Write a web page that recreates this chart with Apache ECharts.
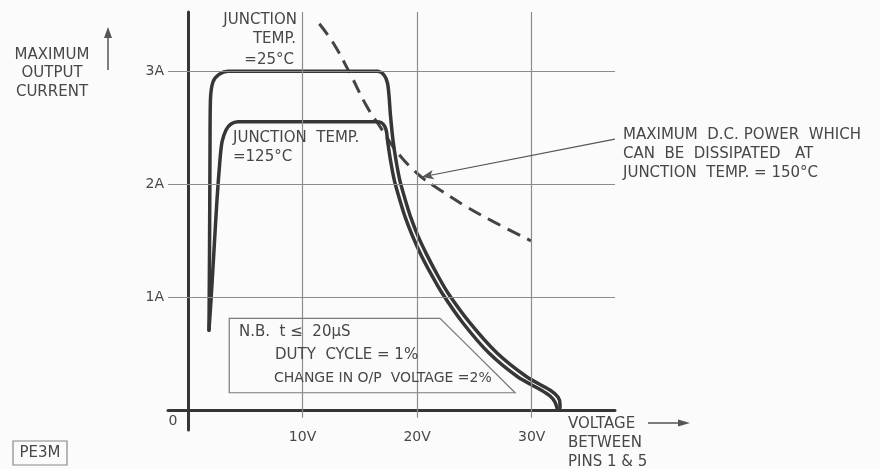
<!DOCTYPE html>
<html>
<head>
<meta charset="utf-8">
<script src="https://cdn.jsdelivr.net/npm/echarts@6/dist/echarts.min.js"></script>
<style>
  html, body { margin: 0; padding: 0; background: #fbfbfb; }
  #chart { width: 880px; height: 469px; }
</style>
</head>
<body>
<div id="chart"></div>
<script>
// Tick positions
const voltTicks = [10, 20, 30];
const ampTicks = [1, 2, 3];

// Safe operating curve, junction temperature 25 °C (volts, amps)
const tj25Volts = [1.83, 1.88, 1.92, 1.96, 2.18, 2.71, 3.49, 16.58, 17.11, 17.41, 17.54, 17.67, 17.89, 18.15, 18.50, 18.94, 19.46, 20.07, 20.85, 21.72, 22.69, 24.61, 26.97, 29.59, 31.59, 32.29, 32.47, 32.47];
const tj25Amps  = [0.71, 1.42, 2.30, 2.75, 2.905, 2.972, 3.0, 3.0, 2.967, 2.896, 2.79, 2.613, 2.392, 2.215, 2.03, 1.871, 1.703, 1.544, 1.376, 1.208, 1.039, 0.774, 0.508, 0.296, 0.181, 0.119, 0.057, 0.022];

// Safe operating curve, junction temperature 125 °C
const tj125Volts = [1.83, 2.01, 2.27, 2.53, 2.79, 2.97, 3.32, 3.75, 4.36, 16.41, 16.85, 17.15, 17.33, 17.41, 17.67, 18.02, 18.46, 18.98, 19.59, 20.34, 21.21, 22.17, 24.0, 26.27, 28.8, 30.81, 31.6, 32.03, 32.21];
const tj125Amps  = [0.71, 0.977, 1.419, 1.862, 2.215, 2.375, 2.481, 2.534, 2.554, 2.554, 2.547, 2.516, 2.463, 2.392, 2.215, 2.03, 1.871, 1.703, 1.544, 1.376, 1.208, 1.039, 0.774, 0.508, 0.296, 0.181, 0.128, 0.075, 0.022];

// Maximum d.c. power dissipation limit at Tj = 150 °C
const powerVolts = [11.46, 12.68, 14.14, 15.6, 16.76, 17.92, 18.79, 19.66, 20.54, 22.0, 24.33, 26.65, 29.94];
const powerAmps  = [3.42, 3.25, 2.98, 2.69, 2.51, 2.33, 2.22, 2.13, 2.05, 1.95, 1.80, 1.67, 1.50];

// Note panel outline (volts, amps)
const noteVolts = [3.6, 22.0, 28.55, 3.6, 3.6];
const noteAmps  = [0.815, 0.815, 0.157, 0.157, 0.815];

const zip = (a, b) => a.map((v, i) => [v, b[i]]);

const X_MIN = -1.7457, X_MAX = 37.27;
const Y_MIN = -0.1725, Y_MAX = 3.524;

const FONT = 'DejaVu Sans';
const INK = '#363636';
const TXT = '#474747';
const GRID = '#8c8c8c';

const gridLines = [];
voltTicks.forEach(v => gridLines.push([{ coord: [v, -0.065] }, { coord: [v, Y_MAX] }]));
ampTicks.forEach(a => gridLines.push([{ coord: [X_MIN, a] }, { coord: [X_MAX, a] }]));

function txt(text, x, y, align, size) {
  return {
    type: 'text', silent: true, z: 100,
    style: { text: text, x: x, y: y, align: align || 'left', verticalAlign: 'middle',
      fontFamily: FONT, fontSize: size || 15, fill: TXT }
  };
}

const chart = echarts.init(document.getElementById('chart'), null, { renderer: 'canvas' });
chart.setOption({
  backgroundColor: '#fbfbfb',
  animation: false,
  grid: { left: 168, right: 265, top: 12, bottom: 39 },
  xAxis: {
    type: 'value', min: X_MIN, max: X_MAX,
    axisLine: { show: true, onZero: true, lineStyle: { color: INK, width: 3 } },
    axisTick: { show: false, customValues: voltTicks },
    axisLabel: { customValues: voltTicks, formatter: '{value}V', margin: 0,
      fontFamily: FONT, fontSize: 14, color: TXT },
    splitLine: { show: false }
  },
  yAxis: {
    type: 'value', min: Y_MIN, max: Y_MAX,
    axisLine: { show: true, onZero: true, lineStyle: { color: INK, width: 3 } },
    axisTick: { show: false, customValues: ampTicks },
    axisLabel: { customValues: ampTicks, formatter: '{value}A', margin: 4,
      fontFamily: FONT, fontSize: 14, color: TXT },
    splitLine: { show: false }
  },
  series: [
    {
      type: 'line', data: [], silent: true, z: 1,
      markLine: {
        silent: true, symbol: ['none', 'none'], label: { show: false },
        lineStyle: { color: GRID, width: 1.2, type: 'solid' },
        data: gridLines
      }
    },
    {
      type: 'custom', z: 2, silent: true, data: [[0, 0]],
      renderItem: function (params, api) {
        const pts = noteVolts.map((v, i) => api.coord([v, noteAmps[i]]));
        return { type: 'polygon', shape: { points: pts },
          style: { fill: '#fbfbfb', stroke: '#7a7a7a', lineWidth: 1.2 } };
      }
    },
    {
      name: 'Tj 25°C', type: 'line', z: 4, data: zip(tj25Volts, tj25Amps),
      smooth: 0.25, symbol: 'none', lineStyle: { color: INK, width: 3.5, cap: 'round', join: 'round' }
    },
    {
      name: 'Tj 125°C', type: 'line', z: 4, data: zip(tj125Volts, tj125Amps),
      smooth: 0.25, symbol: 'none', lineStyle: { color: INK, width: 3.5, cap: 'round', join: 'round' }
    },
    {
      name: 'Pmax 150°C', type: 'line', z: 3, data: zip(powerVolts, powerAmps),
      smooth: 0.4, symbol: 'none',
      lineStyle: { color: '#444', width: 3, type: [14, 8] },
      markLine: {
        silent: true, symbol: ['none', 'arrow'], symbolSize: [7, 12],
        label: { show: false },
        lineStyle: { color: '#555', width: 1.2, type: 'solid' },
        data: [[{ coord: [37.26, 2.40] }, { coord: [20.4, 2.065] }]]
      }
    }
  ],
  graphic: [
    // vertical axis title and arrow
    txt('MAXIMUM', 52, 55, 'center'),
    txt('OUTPUT', 52, 73, 'center'),
    txt('CURRENT', 52, 92, 'center'),
    { type: 'line', silent: true, shape: { x1: 108, y1: 70, x2: 108, y2: 36 },
      style: { stroke: '#555', lineWidth: 1.5 } },
    { type: 'polygon', silent: true, shape: { points: [[104, 38], [112, 38], [108, 27]] },
      style: { fill: '#555' } },
    txt('0', 173, 421, 'center', 14),
    // curve captions
    txt('JUNCTION', 297, 20, 'right'),
    txt('TEMP.', 296, 39, 'right'),
    txt('=25°C', 294, 60, 'right'),
    txt('JUNCTION  TEMP.', 233, 138, 'left'),
    txt('=125°C', 233, 157, 'left'),
    // power-limit note
    txt('MAXIMUM  D.C. POWER  WHICH', 623, 135, 'left'),
    txt('CAN  BE  DISSIPATED   AT', 623, 154, 'left'),
    txt('JUNCTION  TEMP. = 150°C', 623, 173, 'left'),
    // pulse conditions
    txt('N.B.  t ≤  20µS', 239, 332, 'left'),
    txt('DUTY  CYCLE = 1%', 275, 355, 'left'),
    txt('CHANGE IN O/P  VOLTAGE =2%', 274, 378, 'left', 14),
    // horizontal axis title and arrow
    txt('VOLTAGE', 568, 424, 'left'),
    txt('BETWEEN', 568, 443, 'left'),
    txt('PINS 1 & 5', 568, 462, 'left'),
    { type: 'line', silent: true, shape: { x1: 648, y1: 423, x2: 680, y2: 423 },
      style: { stroke: '#555', lineWidth: 1.5 } },
    { type: 'polygon', silent: true, shape: { points: [[678, 419.5], [678, 426.5], [690, 423]] },
      style: { fill: '#555' } },
    // figure code
    { type: 'rect', silent: true, shape: { x: 13, y: 441, width: 54, height: 24 },
      style: { fill: 'none', stroke: '#888', lineWidth: 1.2 } },
    txt('PE3M', 40, 453, 'center')
  ]
});
</script>
</body>
</html>
